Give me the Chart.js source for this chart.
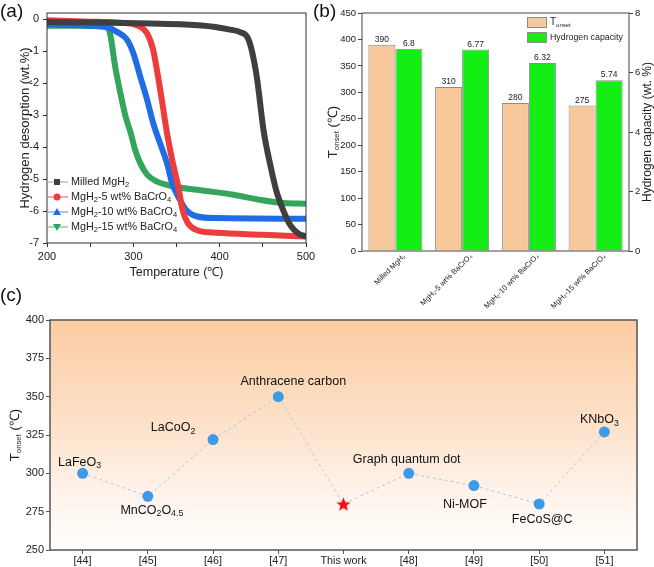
<!DOCTYPE html>
<html>
<head>
<meta charset="utf-8">
<script src="https://cdn.jsdelivr.net/npm/chart.js@4"></script>
<style>
  body { margin: 0; background: #fff; width: 654px; height: 567px; position: relative; overflow: hidden; }
  canvas { position: absolute; }
  #chartA { left: 0; top: 0; }
  #chartB { left: 310px; top: 0; }
  #chartC { left: 0; top: 285px; }
</style>
</head>
<body>
<canvas id="chartA" width="320" height="290"></canvas>
<canvas id="chartB" width="344" height="318"></canvas>
<canvas id="chartC" width="654" height="282"></canvas>
<script>
// (a) TPD curves, [temperature (℃), hydrogen desorption (wt.%)]
const milledMgH2 = [[200,-0.08],[260,-0.1],[320,-0.13],[360,-0.16],[393,-0.23],[412,-0.32],[424,-0.4],[432,-0.55],[437,-0.95],[443,-1.8],[451,-3.5],[459,-4.6],[466,-5.4],[474,-6.0],[482,-6.45],[491,-6.7],[500,-6.8]];
const mgh2Ba5 = [[200,-0.03],[250,-0.07],[280,-0.1],[300,-0.15],[308,-0.23],[316,-0.44],[323,-0.96],[328,-1.69],[333,-2.52],[339,-3.56],[345,-4.4],[352,-5.23],[357,-5.96],[363,-6.37],[374,-6.6],[397,-6.68],[450,-6.74],[500,-6.8]];
const mgh2Ba10 = [[200,-0.15],[250,-0.2],[270,-0.25],[281,-0.39],[293,-0.65],[300,-1.06],[308,-1.79],[316,-2.52],[323,-3.25],[331,-3.88],[339,-4.5],[345,-5.13],[354,-5.65],[361,-5.96],[374,-6.17],[397,-6.22],[500,-6.24]];
const mgh2Ba15 = [[200,-0.2],[240,-0.2],[268,-0.22],[273,-0.44],[279,-1.48],[285,-2.31],[291,-3.04],[297,-3.56],[302,-4.08],[308,-4.5],[316,-4.86],[327,-5.07],[347,-5.23],[378,-5.35],[416,-5.49],[447,-5.65],[474,-5.75],[500,-5.77]];
const tpdNames = ['Milled MgH_{2}', 'MgH_{2}-5 wt% BaCrO_{4}', 'MgH_{2}-10 wt% BaCrO_{4}', 'MgH_{2}-15 wt% BaCrO_{4}'];
const desorptionTicks = [0, -1, -2, -3, -4, -5, -6, -7];

// (b) onset temperature and capacity
const sampleLabels = ['Milled MgH₂', 'MgH₂-5 wt% BaCrO₄', 'MgH₂-10 wt% BaCrO₄', 'MgH₂-15 wt% BaCrO₄'];
const onsetTemps = [390, 310, 280, 275];
const h2Capacity = [6.8, 6.77, 6.32, 5.74];
const capacityLabels = ['6.8', '6.77', '6.32', '5.74'];

// (c) comparison with literature
const refLabels = ['[44]', '[45]', '[46]', '[47]', 'This work', '[48]', '[49]', '[50]', '[51]'];
const refOnset = [300, 285, 322, 350, 280, 300, 292, 280, 327];
const catalystNames = ['LaFeO_{3}', 'MnCO_{2}O_{4.5}', 'LaCoO_{2}', 'Anthracene carbon', '', 'Graph quantum dot', 'Ni-MOF', 'FeCoS@C', 'KNbO_{3}'];

const FONT = "'Liberation Sans', Arial, sans-serif";
Chart.defaults.font.family = FONT;
Chart.defaults.color = '#222';
Chart.defaults.animation = false;
Chart.defaults.plugins.legend.display = false;
Chart.defaults.plugins.tooltip.enabled = false;

// text with _{...} subscripts
function drawRich(ctx, text, x, y, size, align, subScale) {
    const parts = [];
    const re = /_\{([^}]*)\}/g;
    let last = 0, m;
    while ((m = re.exec(text))) {
        if (m.index > last) parts.push({ t: text.slice(last, m.index), sub: false });
        parts.push({ t: m[1], sub: true });
        last = re.lastIndex;
    }
    if (last < text.length) parts.push({ t: text.slice(last), sub: false });
    const subSize = size * (subScale || 0.7);
    let w = 0;
    parts.forEach(p => {
        ctx.font = (p.sub ? subSize : size) + 'px ' + FONT;
        p.w = ctx.measureText(p.t).width;
        w += p.w;
    });
    let cx = align === 'center' ? x - w / 2 : align === 'right' ? x - w : x;
    ctx.textAlign = 'left';
    ctx.textBaseline = 'middle';
    parts.forEach(p => {
        ctx.font = (p.sub ? subSize : size) + 'px ' + FONT;
        ctx.fillText(p.t, cx, p.sub ? y + size * 0.3 : y);
        cx += p.w;
    });
}

function drawRotated(ctx, text, x, y, size, subScale) {
    ctx.save();
    ctx.translate(x, y);
    ctx.rotate(-Math.PI / 2);
    drawRich(ctx, text, 0, 0, size, 'center', subScale);
    ctx.restore();
}

const framePlugin = {
    id: 'frame',
    afterDraw(chart, args, opts) {
        const { ctx, chartArea: a } = chart;
        ctx.save();
        ctx.strokeStyle = opts.color || '#333';
        ctx.lineWidth = opts.width || 1;
        ctx.strokeRect(a.left, a.top, a.right - a.left, a.bottom - a.top);
        ctx.restore();
    }
};

function panelLetter(ctx, letter, x, y) {
    ctx.save();
    ctx.fillStyle = '#111';
    ctx.font = '19px ' + FONT;
    ctx.textAlign = 'left';
    ctx.textBaseline = 'top';
    ctx.fillText(letter, x, y);
    ctx.restore();
}

function tickGrid(color) {
    return { drawOnChartArea: false, drawTicks: true, tickLength: 4, color: color };
}

// ---------- (a) ----------
const tpdColors = ['#3f3f3f', '#ee3b3b', '#1f6de4', '#33a55c'];
const tpdLight = ['#cfcfcf', '#f6a9a9', '#aac6f0', '#a8dbb9'];
const tpdMarkers = ['square', 'circle', 'triUp', 'triDown'];

function drawMarker(ctx, type, x, y, color) {
    ctx.fillStyle = color;
    ctx.beginPath();
    if (type === 'square') ctx.rect(x - 3, y - 3, 6, 6);
    else if (type === 'circle') ctx.arc(x, y, 3.5, 0, Math.PI * 2);
    else if (type === 'triUp') { ctx.moveTo(x, y - 4); ctx.lineTo(x + 4, y + 3); ctx.lineTo(x - 4, y + 3); }
    else { ctx.moveTo(x, y + 4); ctx.lineTo(x + 4, y - 3); ctx.lineTo(x - 4, y - 3); }
    ctx.closePath();
    ctx.fill();
}

new Chart(document.getElementById('chartA'), {
    type: 'line',
    data: {
        datasets: [milledMgH2, mgh2Ba5, mgh2Ba10, mgh2Ba15].map((pts, i) => ({
            label: tpdNames[i],
            data: pts.map(p => ({ x: p[0], y: p[1] })),
            borderColor: tpdColors[i],
            borderWidth: 6,
            pointRadius: 0,
            cubicInterpolationMode: 'monotone',
            fill: false
        }))
    },
    options: {
        responsive: false,
        layout: { padding: { left: 0, right: 14, top: 13, bottom: 0 } },
        scales: {
            x: {
                type: 'linear', min: 200, max: 500,
                ticks: { stepSize: 50, autoSkip: false, maxRotation: 0, font: { size: 11 }, padding: 3,
                         callback: v => v % 100 === 0 ? v : '' },
                grid: tickGrid('#333'),
                border: { display: false },
                afterFit: s => { s.height = 47; }
            },
            y: {
                min: -7, max: 0.2,
                ticks: { font: { size: 11 }, padding: 4 },
                afterBuildTicks: s => { s.ticks = desorptionTicks.map(v => ({ value: v })); },
                grid: tickGrid('#333'),
                border: { display: false },
                afterFit: s => { s.width = 47; }
            }
        },
        plugins: { frame: { color: '#333', width: 1 } }
    },
    plugins: [framePlugin, {
        id: 'textsA',
        afterDraw(chart) {
            const { ctx, chartArea: a } = chart;
            ctx.save();
            ctx.fillStyle = '#222';
            drawRotated(ctx, 'Hydrogen desorption (wt.%)', 25, (a.top + a.bottom) / 2, 13);
            drawRich(ctx, 'Temperature (℃)', (a.left + a.right) / 2, 273, 12.5, 'center');
            // legend
            tpdNames.forEach((name, i) => {
                const y = a.bottom - 61 + i * 15;
                ctx.strokeStyle = tpdLight[i];
                ctx.lineWidth = 2;
                ctx.beginPath();
                ctx.moveTo(a.left + 1, y);
                ctx.lineTo(a.left + 21, y);
                ctx.stroke();
                drawMarker(ctx, tpdMarkers[i], a.left + 10, y, tpdColors[i]);
                ctx.fillStyle = '#222';
                drawRich(ctx, name, a.left + 24, y, 10.8, 'left');
            });
            ctx.restore();
            panelLetter(ctx, '(a)', 0, 2);
        }
    }]
});

// ---------- (b) ----------
const onsetColor = '#f7c89c';
const capColor = '#14ee14';

new Chart(document.getElementById('chartB'), {
    type: 'bar',
    data: {
        labels: sampleLabels,
        datasets: [
            { label: 'T_{onset}', data: onsetTemps, backgroundColor: onsetColor, borderColor: '#8c8c8c',
              borderWidth: 1, yAxisID: 'y', categoryPercentage: 0.81, barPercentage: 1 },
            { label: 'Hydrogen capacity', data: h2Capacity, backgroundColor: capColor, borderColor: '#8c8c8c',
              borderWidth: 1, yAxisID: 'y1', categoryPercentage: 0.81, barPercentage: 1 }
        ]
    },
    options: {
        responsive: false,
        layout: { padding: { left: 0, right: 0, top: 13, bottom: 0 } },
        scales: {
            x: {
                ticks: { font: { size: 7.5 }, minRotation: 45, maxRotation: 45, autoSkip: false,
                         padding: -7, labelOffset: 9 },
                grid: { display: false },
                border: { display: false },
                afterFit: s => { s.height = 67; }
            },
            y: {
                min: 0, max: 450,
                ticks: { stepSize: 50, font: { size: 9.5 }, padding: 2 },
                grid: tickGrid('#444'),
                border: { display: false },
                afterFit: s => { s.width = 52; }
            },
            y1: {
                position: 'right', min: 0, max: 8,
                ticks: { stepSize: 2, font: { size: 9.5 }, padding: 2 },
                grid: tickGrid('#444'),
                border: { display: false },
                afterFit: s => { s.width = 25; }
            }
        },
        plugins: { frame: { color: '#444', width: 1 } }
    },
    plugins: [framePlugin, {
        id: 'textsB',
        afterDraw(chart) {
            const { ctx, chartArea: a } = chart;
            ctx.save();
            // value labels
            ctx.fillStyle = '#222';
            ctx.font = '8.5px ' + FONT;
            ctx.textAlign = 'center';
            ctx.textBaseline = 'bottom';
            chart.getDatasetMeta(0).data.forEach((bar, i) => ctx.fillText(String(onsetTemps[i]), bar.x, bar.y - 1));
            chart.getDatasetMeta(1).data.forEach((bar, i) => ctx.fillText(capacityLabels[i], bar.x, bar.y - 1));
            // axis titles
            drawRotated(ctx, 'T_{onset} (℃)', 23, (a.top + a.bottom) / 2, 13, 0.6);
            drawRotated(ctx, 'Hydrogen capacity (wt. %)', 338, (a.top + a.bottom) / 2, 12);
            // legend
            const lx = a.right - 102;
            [[onsetColor, 'T_{onset}'], [capColor, 'Hydrogen capacity']].forEach((e, i) => {
                const y = a.top + 4 + i * 15;
                ctx.fillStyle = e[0];
                ctx.fillRect(lx, y, 20, 11);
                ctx.strokeStyle = '#8c8c8c';
                ctx.lineWidth = 1;
                ctx.strokeRect(lx + 0.5, y + 0.5, 19, 10);
                ctx.fillStyle = '#222';
                drawRich(ctx, e[1], lx + 23, y + 5.5, i === 0 ? 10 : 8.8, 'left', 0.6);
            });
            ctx.restore();
            panelLetter(ctx, '(b)', 3, 2);
        }
    }]
});

// ---------- (c) ----------
function makeStar(size, color) {
    const c = document.createElement('canvas');
    c.width = c.height = size;
    const g = c.getContext('2d');
    const r = size / 2, ri = r * 0.42;
    g.beginPath();
    for (let i = 0; i < 10; i++) {
        const ang = -Math.PI / 2 + i * Math.PI / 5;
        const rr = i % 2 ? ri : r;
        g.lineTo(r + rr * Math.cos(ang), r + 0.8 + rr * Math.sin(ang));
    }
    g.closePath();
    g.fillStyle = color;
    g.fill();
    return c;
}
const redStar = makeStar(15, '#ee1111');
const labelOffsets = [[-3, -11], [4, 14], [-40, -12], [15, -15], [0, 0], [-2, -14], [-9, 19], [3, 16], [-5, -12]];

new Chart(document.getElementById('chartC'), {
    type: 'line',
    data: {
        labels: refLabels,
        datasets: [{
            data: refOnset,
            borderColor: '#a3cbee',
            borderWidth: 1,
            borderDash: [3, 3],
            tension: 0,
            pointStyle: refLabels.map(l => l === 'This work' ? redStar : 'circle'),
            pointRadius: 5.5,
            pointBackgroundColor: '#3e9ae6',
            pointBorderWidth: 0
        }]
    },
    options: {
        responsive: false,
        layout: { padding: { left: 0, right: 17, top: 35, bottom: 0 } },
        scales: {
            x: {
                offset: true,
                ticks: { font: { size: 10.8 }, padding: 1, autoSkip: false, maxRotation: 0 },
                grid: Object.assign(tickGrid('#555'), { offset: false }),
                border: { display: false },
                afterFit: s => { s.height = 17; }
            },
            y: {
                min: 250, max: 400,
                ticks: { stepSize: 25, font: { size: 11 }, padding: 2 },
                grid: tickGrid('#555'),
                border: { display: false },
                afterFit: s => { s.width = 50; }
            }
        },
        plugins: { frame: { color: '#555', width: 1.5 } }
    },
    plugins: [{
        id: 'gradientBg',
        beforeDraw(chart) {
            const { ctx, chartArea: a } = chart;
            const grad = ctx.createLinearGradient(0, a.top, 0, a.bottom);
            grad.addColorStop(0, '#fbcca2');
            grad.addColorStop(0.45, '#fde1c9');
            grad.addColorStop(0.75, '#fff3ea');
            grad.addColorStop(1, '#ffffff');
            ctx.save();
            ctx.fillStyle = grad;
            ctx.fillRect(a.left, a.top, a.right - a.left, a.bottom - a.top);
            ctx.restore();
        }
    }, framePlugin, {
        id: 'textsC',
        afterDraw(chart) {
            const { ctx, chartArea: a } = chart;
            ctx.save();
            ctx.fillStyle = '#111';
            chart.getDatasetMeta(0).data.forEach((pt, i) => {
                if (!catalystNames[i]) return;
                drawRich(ctx, catalystNames[i], pt.x + labelOffsets[i][0], pt.y + labelOffsets[i][1], 12.5, 'center');
            });
            ctx.fillStyle = '#222';
            drawRotated(ctx, 'T_{onset} (℃)', 15, (a.top + a.bottom) / 2, 13, 0.6);
            ctx.restore();
            panelLetter(ctx, '(c)', 0, 1);
        }
    }]
});
</script>
</body>
</html>
